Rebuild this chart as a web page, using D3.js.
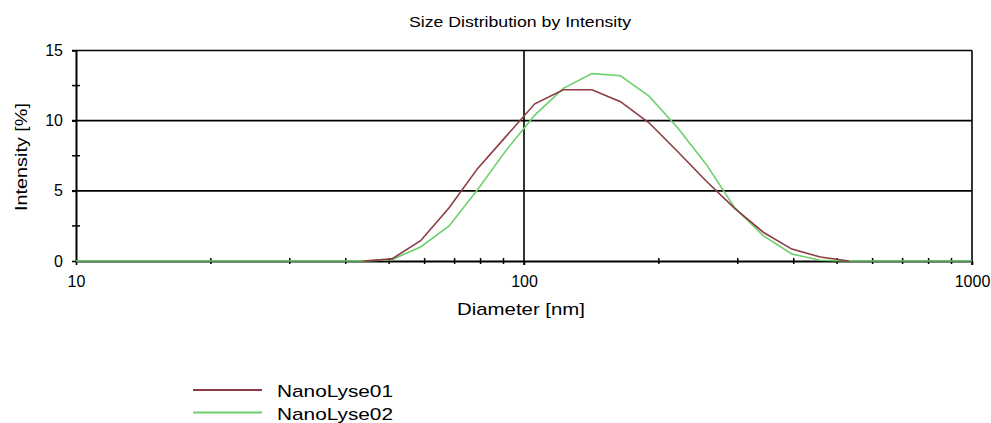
<!DOCTYPE html>
<html>
<head>
<meta charset="utf-8">
<script src="https://cdn.jsdelivr.net/npm/d3@7/dist/d3.min.js"></script>
<style>
  body { margin: 0; background: #fff; }
  text { font-family: "Liberation Sans", Arial, sans-serif; fill: #000; }
</style>
</head>
<body>
<script>
var width = 991;
var height = 423;
var margin = {top: 50.5, left: 76, right: 19, bottom: 162};

// size classes (nm)
var diameters = [8.721, 10.10, 11.70, 13.54, 15.69, 18.17, 21.04, 24.36, 28.21, 32.67, 37.84,
  43.82, 50.75, 58.77, 68.06, 78.82, 91.28, 105.7, 122.4, 141.8, 164.2, 190.1, 220.2, 255.0,
  295.3, 342.0, 396.1, 458.7, 531.2, 615.1, 712.4, 825.0, 955.4, 1106];

// intensity (%), null = not drawn
var nanoLyse01 = [null, null, null, null, null, null, null, null, null, null, null,
  0, 0.15, 1.45, 3.8, 6.6, 8.9, 11.2, 12.2, 12.2, 11.35, 9.85, 7.8, 5.7,
  3.75, 2.05, 0.85, 0.28, 0, null, null, null, null, null];
var nanoLyse02 = [0, 0, 0, 0, 0, 0, 0, 0, 0, 0, 0,
  0, 0.1, 1.0, 2.5, 5.1, 7.9, 10.4, 12.3, 13.35, 13.2, 11.75, 9.5, 6.9,
  3.8, 1.8, 0.5, 0.05, 0, 0, 0, 0, 0, 0];

var seriesNames = ["NanoLyse01", "NanoLyse02"];
var seriesColors = ["#8c3b42", "#6cd06c"];

var xTicks = [10, 100, 1000];
var xMinorTicks = [20, 30, 40, 50, 60, 70, 80, 90, 200, 300, 400, 500, 600, 700, 800, 900];
var yTicks = [0, 5, 10, 15];
var yMinorTicks = [2.5, 7.5, 12.5];

var svg = d3.select("body")
  .append("svg")
  .attr("width", width)
  .attr("height", height)
  .style("background", "#fff");

var xScale = d3.scaleLog()
  .domain([10, 1000])
  .range([margin.left, width - margin.right]);

var yScale = d3.scaleLinear()
  .domain([0, 15])
  .range([height - margin.bottom, margin.top]);

var x0 = xScale(10), x1 = xScale(1000), yBottom = yScale(0), yTop = yScale(15);

svg.append("clipPath")
  .attr("id", "plot-clip")
  .append("rect")
    .attr("x", x0)
    .attr("y", 0)
    .attr("width", x1 - x0)
    .attr("height", height);

// horizontal grid lines
svg.append("g")
  .selectAll("line")
  .data(yTicks.filter(function(d) { return d > 0; }))
  .enter()
  .append("line")
    .attr("x1", x0 - 4)
    .attr("x2", x1)
    .attr("y1", function(d) { return yScale(d); })
    .attr("y2", function(d) { return yScale(d); })
    .attr("stroke", "#000")
    .attr("stroke-width", 1.6);

// vertical grid lines (100 and right border)
svg.append("g")
  .selectAll("line")
  .data([100, 1000])
  .enter()
  .append("line")
    .attr("x1", function(d) { return xScale(d); })
    .attr("x2", function(d) { return xScale(d); })
    .attr("y1", yTop)
    .attr("y2", yBottom + 4)
    .attr("stroke", "#000")
    .attr("stroke-width", 1.6);

var xAxis = svg.append("g")
  .attr("transform", `translate(0,${yBottom})`)
  .call(d3.axisBottom(xScale)
    .tickValues(xTicks)
    .tickFormat(d3.format("d"))
    .tickSize(4)
    .tickSizeOuter(0)
    .tickPadding(11));

var yAxis = svg.append("g")
  .attr("transform", `translate(${x0},0)`)
  .call(d3.axisLeft(yScale)
    .tickValues(yTicks)
    .tickSize(4)
    .tickSizeOuter(0)
    .tickPadding(9));

[xAxis, yAxis].forEach(function(ax) {
  ax.attr("font-family", null).attr("font-size", 16);
  ax.select(".domain").attr("stroke", "#000").attr("stroke-width", 2);
  ax.selectAll(".tick line").attr("stroke", "#000").attr("stroke-width", 1.6);
  ax.selectAll(".tick text").attr("fill", "#000");
});

// minor ticks crossing the axes
svg.append("g")
  .selectAll("line")
  .data(xMinorTicks)
  .enter()
  .append("line")
    .attr("x1", function(d) { return xScale(d); })
    .attr("x2", function(d) { return xScale(d); })
    .attr("y1", yBottom - 3)
    .attr("y2", yBottom + 3)
    .attr("stroke", "#000")
    .attr("stroke-width", 1.5);

svg.append("g")
  .selectAll("line")
  .data(yMinorTicks)
  .enter()
  .append("line")
    .attr("x1", x0 - 4)
    .attr("x2", x0 + 4)
    .attr("y1", function(d) { return yScale(d); })
    .attr("y2", function(d) { return yScale(d); })
    .attr("stroke", "#000")
    .attr("stroke-width", 1.5);

// curves
var line = d3.line()
  .defined(function(d) { return d[1] !== null; })
  .x(function(d) { return xScale(d[0]); })
  .y(function(d) { return yScale(d[1]); });

var series = [nanoLyse02, nanoLyse01];
var colors = [seriesColors[1], seriesColors[0]];

svg.append("g")
  .attr("clip-path", "url(#plot-clip)")
  .selectAll("path")
  .data(series)
  .enter()
  .append("path")
    .attr("d", function(vals) { return line(diameters.map(function(d, i) { return [d, vals[i]]; })); })
    .attr("fill", "none")
    .attr("stroke", function(d, i) { return colors[i]; })
    .attr("stroke-width", 1.6);

// titles
svg.append("text")
  .attr("x", (x0 + x1) / 2 - 4)
  .attr("y", 27)
  .attr("text-anchor", "middle")
  .attr("font-size", 15)
  .attr("textLength", 222)
  .attr("lengthAdjust", "spacingAndGlyphs")
  .text("Size Distribution by Intensity");

svg.append("text")
  .attr("x", 521)
  .attr("y", 315)
  .attr("text-anchor", "middle")
  .attr("font-size", 17)
  .attr("textLength", 128)
  .attr("lengthAdjust", "spacingAndGlyphs")
  .text("Diameter [nm]");

svg.append("text")
  .attr("transform", "translate(27,157) rotate(-90)")
  .attr("text-anchor", "middle")
  .attr("font-size", 17)
  .attr("textLength", 108)
  .attr("lengthAdjust", "spacingAndGlyphs")
  .text("Intensity [%]");

// legend
var legend = svg.append("g")
  .selectAll("g")
  .data(seriesNames)
  .enter()
  .append("g")
    .attr("transform", function(d, i) { return `translate(193,${390 + i * 22.5})`; });

legend.append("line")
  .attr("x1", 0)
  .attr("x2", 69)
  .attr("stroke", function(d, i) { return seriesColors[i]; })
  .attr("stroke-width", 1.8);

legend.append("text")
  .attr("x", 84)
  .attr("y", 7)
  .attr("font-size", 17)
  .attr("textLength", 116)
  .attr("lengthAdjust", "spacingAndGlyphs")
  .text(function(d) { return d; });
</script>
</body>
</html>
